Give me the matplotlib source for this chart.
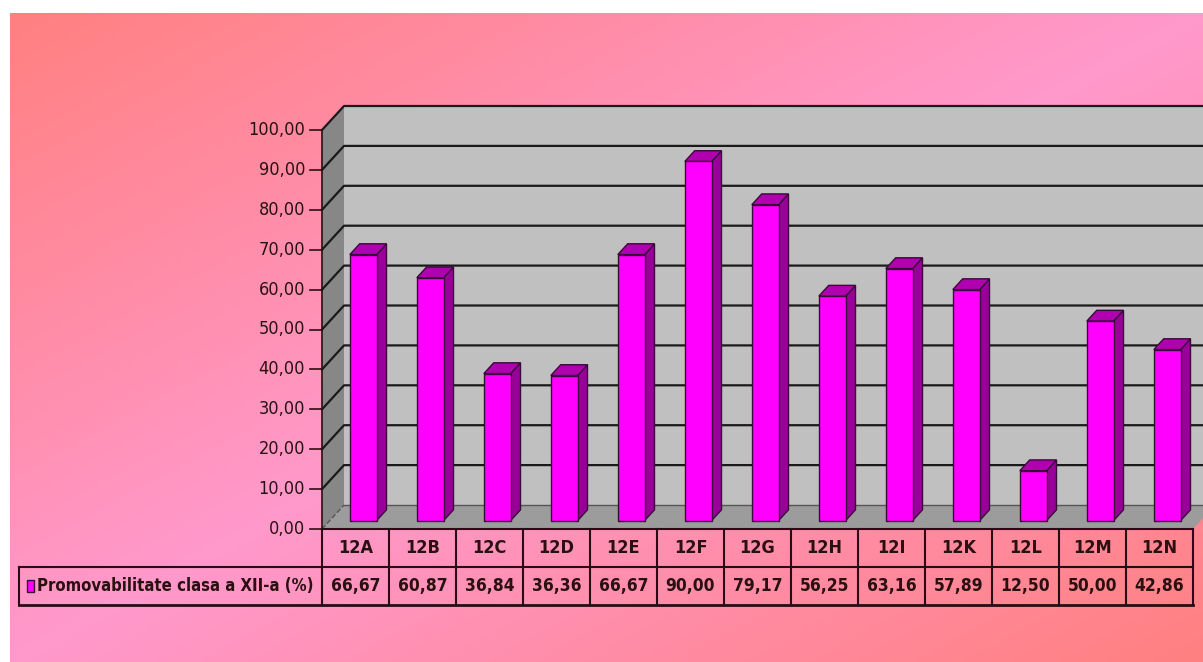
import numpy as np
import matplotlib
matplotlib.use('Agg')
import matplotlib.pyplot as plt
from matplotlib import font_manager
from matplotlib.patches import Polygon, Rectangle

# data
classes = ['12A', '12B', '12C', '12D', '12E', '12F', '12G', '12H', '12I', '12K', '12L', '12M', '12N']
values = [66.67, 60.87, 36.84, 36.36, 66.67, 90.00, 79.17, 56.25, 63.16, 57.89, 12.50, 50.00, 42.86]
yticks = [0, 10, 20, 30, 40, 50, 60, 70, 80, 90, 100]
series_name = 'Promovabilitate clasa a XII-a (%)'

names = {f.name for f in font_manager.fontManager.ttflist}
if 'Liberation Sans Narrow' in names:
    fam = 'Liberation Sans Narrow'
    stretch = 'normal'
    k = 1.15
else:
    fam = 'DejaVu Sans'
    stretch = 'condensed'
    k = 1.0
txt_col = '#2a1010'

W, H = 1203, 662
fig = plt.figure(figsize=(W / 100, H / 100), dpi=100)
fig.patch.set_facecolor('white')

# background gradient (salmon -> pink -> salmon along the diagonal)
bg = fig.add_axes([10 / W, 0, 1 - 10 / W, 1 - 13 / H])
bg.axis('off')
gx, gy = np.meshgrid(np.linspace(0, 1, 300), np.linspace(0, 1, 200))
t = 1 - np.abs(gx + gy - 1)
c1 = np.array([255, 128, 128]) / 255
c2 = np.array([255, 153, 204]) / 255
img = c1[None, None, :] * (1 - t[..., None]) + c2[None, None, :] * t[..., None]
bg.imshow(img, aspect='auto', extent=[0, 1, 1, 0])
bg.set_xlim(0, 1)
bg.set_ylim(1, 0)

# main axes: front plane of the 3d chart
x0, x1 = 322, 1193
y0, y1 = 529, 130
ax = fig.add_axes([x0 / W, (H - y0) / H, (x1 - x0) / W, (y0 - y1) / H])
ax.set_xlim(0, len(classes))
ax.set_ylim(0, 100)
ax.axis('off')
ax.patch.set_alpha(0)

pxx = (x1 - x0) / len(classes)   # px per category
pxy = (y0 - y1) / 100.0          # px per unit
dx = 22 / pxx                    # depth offset in data units
dy = 24 / pxy
n = len(classes)

def poly(pts, fc, ec='none', lw=0, z=1):
    ax.add_patch(Polygon(pts, closed=True, facecolor=fc, edgecolor=ec, linewidth=lw,
                         clip_on=False, zorder=z))

# walls and floor
poly([(dx, dy), (n + dx, dy), (n + dx, 100 + dy), (dx, 100 + dy)], '#c0c0c0', z=1)
poly([(0, 0), (dx, dy), (dx, 100 + dy), (0, 100)], '#878787', z=1)
poly([(0, 0), (n, 0), (n + dx, dy), (dx, dy)], '#9c9c9c', z=1)

# gridlines
for v in yticks[1:]:
    ax.plot([0, dx, n + dx], [v, v + dy, v + dy], color='#1a1a1a', lw=1.6,
            clip_on=False, zorder=2)
ax.plot([dx, n + dx], [dy, dy], color='#555555', lw=1, clip_on=False, zorder=2)
ax.plot([0, dx], [0, dy], color='#555555', lw=1, ls='--', clip_on=False, zorder=2)

# bars
bw = 1 / 2.5
f0, f1 = 0.35, 0.8
for i, v in enumerate(values):
    l = i + 0.5 - bw / 2 + f0 * dx
    r = l + bw
    b = f0 * dy
    ddx = (f1 - f0) * dx
    ddy = (f1 - f0) * dy
    poly([(r, b), (r + ddx, b + ddy), (r + ddx, b + v + ddy), (r, b + v)],
         '#990099', '#3a0a3a', 1.0, z=3)
    poly([(l, b + v), (r, b + v), (r + ddx, b + v + ddy), (l + ddx, b + v + ddy)],
         '#b000b0', '#3a0a3a', 1.0, z=3)
    poly([(l, b), (r, b), (r, b + v), (l, b + v)], '#ff00ff', '#3a0a3a', 1.0, z=4)

# value axis
ax.plot([0, 0], [0, 100], color=txt_col, lw=1.2, clip_on=False, zorder=5)
for v in yticks:
    ax.plot([-12 / pxx, 0], [v, v], color=txt_col, lw=1.2, clip_on=False, zorder=5)
    ax.text(-17 / pxx, v, ('%.2f' % v).replace('.', ','), ha='right', va='center',
            fontsize=13 * k, family=fam, fontstretch=stretch, color=txt_col)

# data table
rh = 38 / pxy
leg_l = (19 - x0) / pxx
lc = '#2a0a14'
ax.plot([0, n], [0, 0], color=lc, lw=1.5, clip_on=False, zorder=5)
ax.plot([0, n], [-rh, -rh], color=lc, lw=1.5, clip_on=False, zorder=5)
ax.plot([leg_l, 0], [-rh, -rh], color=lc, lw=1.5, clip_on=False, zorder=5)
ax.plot([leg_l, n], [-2 * rh, -2 * rh], color=lc, lw=2, clip_on=False, zorder=5)
ax.plot([leg_l, leg_l], [-rh, -2 * rh], color=lc, lw=1.5, clip_on=False, zorder=5)
for i in range(n + 1):
    ax.plot([i, i], [0, -2 * rh], color=lc, lw=1.5, clip_on=False, zorder=5)
for i, (c, v) in enumerate(zip(classes, values)):
    ax.text(i + 0.5, -rh / 2, c, ha='center', va='center', fontsize=13 * k,
            fontweight='bold', family=fam, fontstretch=stretch, color=txt_col)
    ax.text(i + 0.5, -1.5 * rh, ('%.2f' % v).replace('.', ','), ha='center',
            va='center', fontsize=12.5 * k, fontweight='bold', family=fam,
            fontstretch=stretch, color=txt_col)

# legend key inside the table
ax.add_patch(Rectangle(((27 - x0) / pxx, -1.5 * rh - 6 / pxy), 7 / pxx, 12 / pxy,
                       facecolor='#ff00ff', edgecolor='#3a0a3a', lw=1, clip_on=False,
                       zorder=6))
ax.text((37 - x0) / pxx, -1.5 * rh, series_name, ha='left', va='center', fontsize=12 * k,
        fontweight='bold', family=fam, fontstretch=stretch, color=txt_col)

fig.savefig('out.png', dpi=100)
